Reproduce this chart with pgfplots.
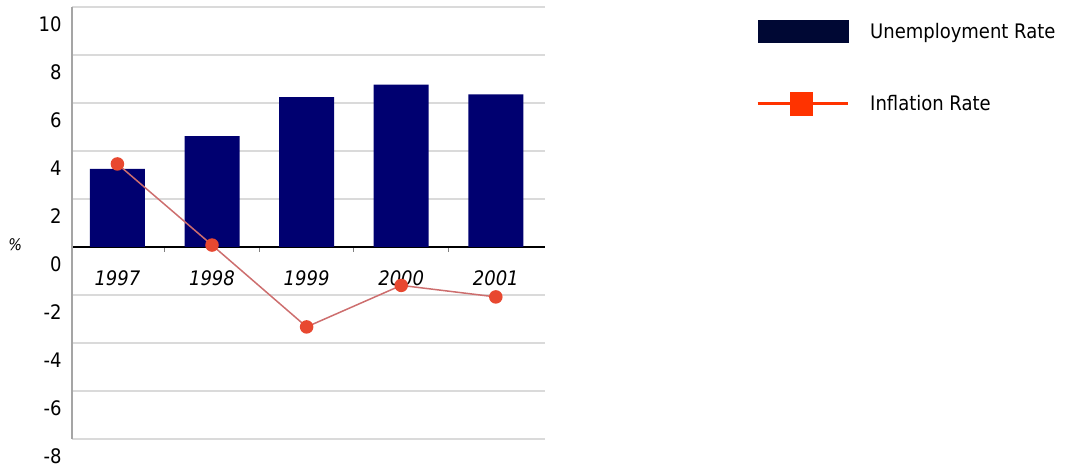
\documentclass[border=0pt]{standalone}
\usepackage{pgfplots}
\pgfplotsset{compat=1.18}
\usepackage{fontspec}
\setmainfont{DejaVu Sans Condensed}[ItalicFont={DejaVu Sans Condensed Oblique}]
\definecolor{barnavy}{RGB}{0,0,112}
\definecolor{legnavy}{RGB}{0,8,52}
\definecolor{inflline}{RGB}{205,110,110}
\definecolor{inflmark}{RGB}{232,72,48}
\definecolor{legred}{RGB}{255,51,0}
\definecolor{gridgray}{RGB}{218,218,218}
\definecolor{axisgray}{RGB}{165,165,165}
\begin{document}
\begin{tikzpicture}[x=1bp,y=1bp]
\useasboundingbox (0,0) rectangle (1079,467);
\begin{axis}[
  at={(72bp,28bp)}, anchor=south west,
  width=473bp, height=432bp, scale only axis,
  xmin=-0.48, xmax=4.52,
  ymin=-8, ymax=10,
  ytick={-8,-6,...,10},
  yticklabels={-8,-6,-4,-2,0,2,4,6,8,10},
  xtick={0,1,2,3,4},
  xticklabels={1997,1998,1999,2000,2001},
  minor xtick={0.5,1.5,2.5,3.5},
  axis x line*=middle,
  axis y line*=left,
  x axis line style={black, line width=2.5bp},
  y axis line style={axisgray, line width=2bp},
  ymajorgrids,
  major grid style={gridgray, line width=1.5bp},
  major tick length=0pt,
  minor tick length=5bp,
  tick align=outside,
  minor tick style={gray, line width=1bp},
  font=\fontsize{20bp}{24bp}\selectfont,
  xticklabel style={font=\fontsize{20bp}{24bp}\selectfont\itshape, yshift=-20bp},
  yticklabel style={yshift=-17bp, xshift=-7bp},
  ylabel={\itshape\%},
  ylabel style={rotate=-90, at={(axis description cs:-0.12,0.449)}, anchor=center, font=\fontsize{16bp}{18bp}\selectfont},
  legend style={draw=none, fill=none, at={(756bp-72bp,439bp-20bp)}, anchor=north west,
    inner sep=0pt, row sep=49bp, font=\fontsize{20bp}{24bp}\selectfont,
    nodes={inner sep=0pt},
    /tikz/every odd column/.append style={column sep=21bp}},
  legend cell align=left,
  clip=false,
]
\addplot[ybar, bar width=55bp, fill=barnavy, draw=none,
  legend image code/.code={\fill[legnavy] (0bp,-11.5bp) rectangle (91bp,11.5bp);}]
  coordinates {(0,3.25) (1,4.62) (2,6.24) (3,6.76) (4,6.36)};
\addlegendentry{Unemployment Rate}
\addplot[inflline, line width=1.5bp, mark=*, mark size=6bp,
  mark options={fill=inflmark, draw=inflmark},
  legend image code/.code={\draw[legred, line width=3bp] (0bp,0bp) -- (90bp,0bp);
     \fill[legred] (33bp,-11bp) rectangle (55bp,11bp);}]
  coordinates {(0,3.46) (1,0.08) (2,-3.33) (3,-1.6) (4,-2.08)};
\addlegendentry{Inflation Rate}
\end{axis}
\end{tikzpicture}
\end{document}
